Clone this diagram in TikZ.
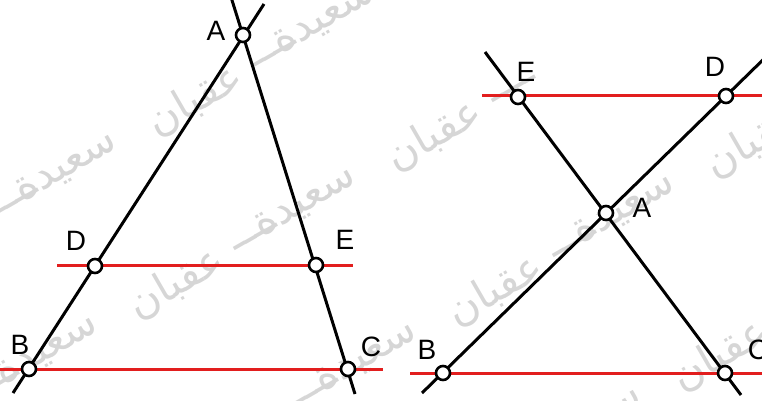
\documentclass[tikz,border=0pt]{standalone}
\usepackage{fontspec}
\setmainfont{Liberation Sans}
\newfontfamily\arabicfont[Script=Arabic]{DejaVu Sans}
\TeXXeTstate=1
\usetikzlibrary{positioning}

\definecolor{parred}{RGB}{226,30,30}
\definecolor{wmgray}{RGB}{214,214,214}

\begin{document}
\begin{tikzpicture}[x=1pt, y=-1pt,
    seg/.style={line width=3pt, black},
    par/.style={line width=3pt, parred},
    vertex/.style={circle, draw, fill=white, line width=2.6pt, minimum size=14pt, inner sep=0pt},
    lbl/.style={font=\fontsize{28}{30}\selectfont, inner sep=0pt},
    wm/.style={font=\arabicfont\fontsize{42}{46}\selectfont, text=wmgray, rotate=30, inner sep=0pt}
]
\clip (0,0) rectangle (762,401);

% Watermark
\foreach \x/\y in {195/100, 176/283, 495/290, 720/355}{
  \foreach \k in {-1,0,1}{
    \node[wm] at ({\x+258*\k},{\y-148*\k}) {\beginR عقبان\endR};
    \node[wm] at ({\x+258*\k-128},{\y-148*\k+68}) {\beginR سعيدة\endR};
    \node[wm] at ({\x+258*\k+80},{\y-148*\k-46}) {\beginR ــــ\endR};
  }
}

% Left figure
\coordinate (A1) at (243,35);
\coordinate (B1) at (29,369);
\coordinate (C1) at (348,369);
\coordinate (D1) at (95,266);
\coordinate (E1) at (316,265);
\coordinate (ab1) at (264,4);
\coordinate (ba1) at (13,393);
\coordinate (ac1) at (231,-3);
\coordinate (ca1) at (355,394);
\coordinate (de1) at (57,265);
\coordinate (ed1) at (353,265);
\coordinate (bc1) at (-5,369);
\coordinate (cb1) at (383,369);

\draw[par] (de1) -- (ed1);
\draw[par] (bc1) -- (cb1);
\draw[seg] (ab1) -- (ba1);
\draw[seg] (ac1) -- (ca1);

\foreach \p in {A1,B1,C1,D1,E1}
  \node[vertex] (v\p) at (\p) {};

\node[lbl] (lA1) at (216,31) {A};
\node[lbl] (lD1) at (76,241) {D};
\node[lbl] (lE1) at (345,240) {E};
\node[lbl] (lB1) at (20,345) {B};
\node[lbl] (lC1) at (371,347) {C};

% Right figure
\coordinate (A2) at (606,213);
\coordinate (B2) at (443,373);
\coordinate (C2) at (725,373);
\coordinate (D2) at (726,96);
\coordinate (E2) at (518,97);
\coordinate (ec2) at (485,52);
\coordinate (ce2) at (741,395);
\coordinate (db2) at (772,51);
\coordinate (bd2) at (422,393);
\coordinate (ed2) at (482,96);
\coordinate (de2) at (765,96);
\coordinate (bc2) at (410,373);
\coordinate (cb2) at (765,373);

\draw[par] (ed2) -- (de2);
\draw[par] (bc2) -- (cb2);
\draw[seg] (ec2) -- (ce2);
\draw[seg] (db2) -- (bd2);

\foreach \p in {A2,B2,C2,D2,E2}
  \node[vertex] (v\p) at (\p) {};

\node[lbl] (lE2) at (526,72) {E};
\node[lbl] (lD2) at (715,67) {D};
\node[lbl] (lA2) at (642,208) {A};
\node[lbl] (lB2) at (427,350) {B};
\node[lbl] (lC2) at (758,350) {C};

\end{tikzpicture}
\end{document}
